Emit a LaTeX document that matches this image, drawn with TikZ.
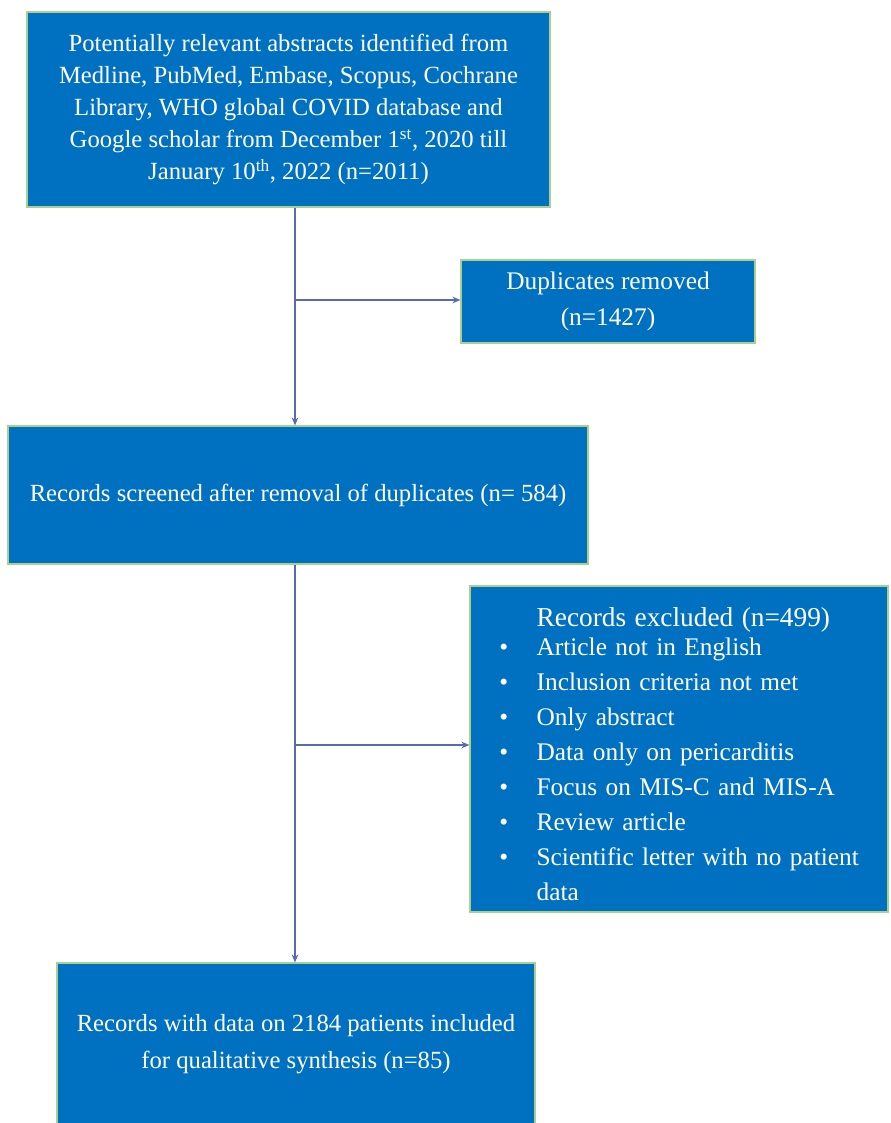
\documentclass[tikz,border=0pt]{standalone}
\usepackage{fontspec}
\setmainfont{Liberation Serif}
\usetikzlibrary{arrows.meta}
\definecolor{boxblue}{RGB}{0,112,192}
\definecolor{boxedge}{RGB}{169,209,142}
\definecolor{linkblue}{RGB}{88,106,176}
\tikzset{
  box/.style={draw=boxedge, line width=0.9pt, fill=boxblue, text=white, align=center, inner sep=0pt},
  link/.style={draw=linkblue, line width=1.1pt},
  arr/.style={link, -{Stealth[length=6pt,width=5pt]}}
}
\newcommand{\bul}[1]{\hspace*{22pt}\makebox[28pt][l]{\textbullet}#1}
\begin{document}
\begin{tikzpicture}[x=0.75pt,y=-0.75pt]
\useasboundingbox (0,0) rectangle (890,1123);
\node[box, minimum width=392.25pt, minimum height=146.25pt,
      font=\fontsize{18.5}{24}\selectfont] (top) at (288.5,109.5)
  {Potentially relevant abstracts identified from\\
   Medline, PubMed, Embase, Scopus, Cochrane\\
   Library, WHO global COVID database and\\
   Google scholar from December 1\textsuperscript{st}, 2020 till\\
   January 10\textsuperscript{th}, 2022 (n=2011)};
\node[box, minimum width=220.5pt, minimum height=62.25pt,
      font=\fontsize{19}{27}\selectfont] (dup) at (608,301.5)
  {Duplicates removed\\(n=1427)};
\node[box, minimum width=435pt, minimum height=103.5pt,
      font=\fontsize{18.5}{24}\selectfont] (scr) at (298,495)
  {Records screened after removal of duplicates (n=~584)};
\node[box, minimum width=313.5pt, minimum height=244.5pt, text width=313.5pt, align=left,
      font=\fontsize{19}{26.25}\selectfont] (exc) at (679,749)
  {\hspace*{50pt}\raisebox{-5pt}{\fontsize{20.5}{26}\selectfont Records excluded (n=499)}\\
   \bul{Article not in English}\\
   \bul{Inclusion criteria not met}\\
   \bul{Only abstract}\\
   \bul{Data only on pericarditis}\\
   \bul{Focus on MIS-C and MIS-A}\\
   \bul{Review article}\\
   \bul{Scientific letter with no patient}\\
   \hspace*{50pt}data\\[-34pt]\mbox{}};
\node[box, minimum width=358.5pt, minimum height=135pt,
      font=\fontsize{18.5}{27.5}\selectfont] (fin) at (296,1053)
  {Records with data on 2184 patients included\\
   for qualitative synthesis (n=85)\\[-10pt]\mbox{}};
\coordinate (s) at (295,0);
\coordinate (j1) at (295,300);
\coordinate (j2) at (295,745);
\draw[arr] (top.south -| s) -- (scr.north -| s);
\draw[arr] (j1) -- (j1 -| dup.west);
\draw[arr] (scr.south -| s) -- (fin.north -| s);
\draw[arr] (j2) -- (j2 -| exc.west);
\end{tikzpicture}
\end{document}
